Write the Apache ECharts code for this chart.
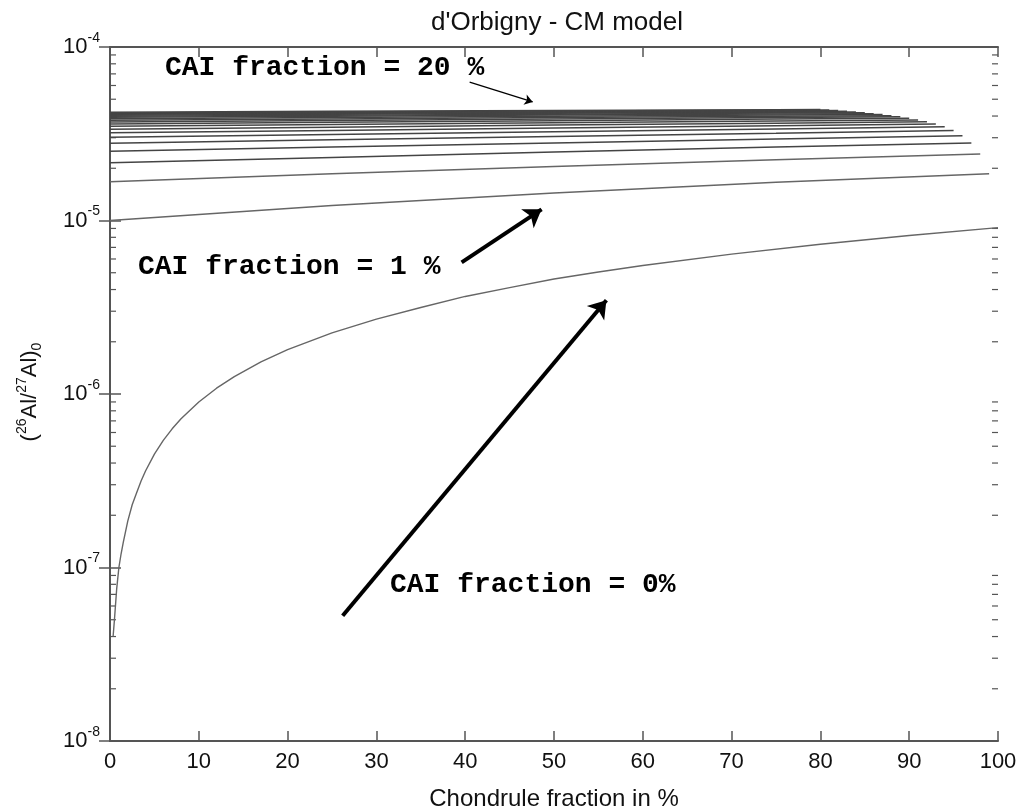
<!DOCTYPE html>
<html>
<head>
<meta charset="utf-8">
<script src="https://cdn.jsdelivr.net/npm/echarts@6/dist/echarts.min.js"></script>
<style>
  html, body { margin: 0; padding: 0; background: #fff; }
  #chart { width: 1023px; height: 810px; }
</style>
</head>
<body>
<div id="chart"></div>
<script>
// chondrule fraction (%) and (26Al/27Al)0 for the CAI = 0 % curve
var cai00X = [0.35, 0.5, 0.75, 1, 1.25, 1.5, 2, 2.5, 3, 3.5, 4, 5, 6, 7, 8, 10, 12, 14, 17, 20,
              25, 30, 35, 40, 45, 50, 55, 60, 70, 80, 90, 100];
var cai00Y = [4.0e-8, 5.0e-8, 7.5e-8, 1.0e-7, 1.2e-7, 1.4e-7, 1.85e-7, 2.3e-7, 2.7e-7, 3.15e-7,
              3.6e-7, 4.5e-7, 5.4e-7, 6.3e-7, 7.2e-7, 9.0e-7, 1.08e-6, 1.26e-6, 1.53e-6, 1.8e-6,
              2.25e-6, 2.7e-6, 3.15e-6, 3.65e-6, 4.1e-6, 4.6e-6, 5.05e-6, 5.5e-6, 6.4e-6, 7.3e-6,
              8.2e-6, 9.1e-6];

// CAI = 1..20 % : values at chondrule fraction 0, 25, 50, 75 and at the line end
var chondruleGrid = [0, 25, 50, 75];
var caiFractions = [1, 2, 3, 4, 5, 6, 7, 8, 9, 10, 11, 12, 13, 14, 15, 16, 17, 18, 19, 20];
var lineEnds = [99, 98, 97, 96, 95, 94, 93, 92, 91, 90, 89, 88, 87, 86, 85, 84, 83, 82, 81, 80];

var cai01 = [1.00e-5, 1.22e-5, 1.44e-5, 1.66e-5, 1.86e-5];
var cai02 = [1.67e-5, 1.86e-5, 2.05e-5, 2.24e-5, 2.42e-5];
var cai03 = [2.15e-5, 2.31e-5, 2.48e-5, 2.65e-5, 2.80e-5];
var cai04 = [2.51e-5, 2.65e-5, 2.80e-5, 2.95e-5, 3.08e-5];
var cai05 = [2.79e-5, 2.92e-5, 3.05e-5, 3.18e-5, 3.30e-5];
var cai06 = [3.02e-5, 3.13e-5, 3.25e-5, 3.37e-5, 3.47e-5];
var cai07 = [3.20e-5, 3.30e-5, 3.41e-5, 3.52e-5, 3.60e-5];
var cai08 = [3.36e-5, 3.45e-5, 3.55e-5, 3.64e-5, 3.71e-5];
var cai09 = [3.49e-5, 3.57e-5, 3.66e-5, 3.75e-5, 3.80e-5];
var cai10 = [3.60e-5, 3.68e-5, 3.76e-5, 3.84e-5, 3.88e-5];
var cai11 = [3.70e-5, 3.77e-5, 3.84e-5, 3.92e-5, 3.96e-5];
var cai12 = [3.78e-5, 3.85e-5, 3.92e-5, 3.99e-5, 4.02e-5];
var cai13 = [3.86e-5, 3.92e-5, 3.99e-5, 4.05e-5, 4.08e-5];
var cai14 = [3.93e-5, 3.99e-5, 4.05e-5, 4.11e-5, 4.13e-5];
var cai15 = [3.99e-5, 4.04e-5, 4.10e-5, 4.16e-5, 4.18e-5];
var cai16 = [4.04e-5, 4.09e-5, 4.15e-5, 4.20e-5, 4.22e-5];
var cai17 = [4.09e-5, 4.14e-5, 4.19e-5, 4.24e-5, 4.26e-5];
var cai18 = [4.13e-5, 4.18e-5, 4.23e-5, 4.28e-5, 4.30e-5];
var cai19 = [4.17e-5, 4.22e-5, 4.27e-5, 4.32e-5, 4.33e-5];
var cai20 = [4.21e-5, 4.26e-5, 4.30e-5, 4.35e-5, 4.36e-5];

var yDecades = [-8, -7, -6, -5, -4];

var caiCurves = [cai01, cai02, cai03, cai04, cai05, cai06, cai07, cai08, cai09, cai10,
                 cai11, cai12, cai13, cai14, cai15, cai16, cai17, cai18, cai19, cai20];

var AXIS = '#555';
var FONT = '"Liberation Sans", Arial, sans-serif';
var MONO = '"Liberation Mono", "Courier New", monospace';

var myChart = echarts.init(document.getElementById('chart'));

// minor log ticks 2..9 x 10^n
var minorTicks = [];
for (var d = 0; d < yDecades.length - 1; d++) {
    for (var k = 2; k <= 9; k++) {
        minorTicks.push([0, k * Math.pow(10, yDecades[d])]);
    }
}

var series = [];

series.push({
    name: 'CAI 0%',
    type: 'line',
    showSymbol: false,
    data: cai00X.map(function (x, i) { return [x, cai00Y[i]]; }),
    lineStyle: { color: '#666', width: 1.4 },
    markLine: {
        silent: true,
        symbol: ['none', 'arrow'],
        label: { show: false },
        emphasis: { disabled: true },
        data: [
            [{ coord: [40.5, 6.28e-5], lineStyle: { color: '#000', width: 1.3, type: 'solid' } },
             { coord: [47.6, 4.82e-5], symbolSize: 8 }],
            [{ coord: [39.6, 5.74e-6], lineStyle: { color: '#000', width: 4, type: 'solid' } },
             { coord: [48.6, 1.16e-5], symbolSize: 17 }],
            [{ coord: [26.2, 5.27e-8], lineStyle: { color: '#000', width: 4, type: 'solid' } },
             { coord: [55.9, 3.47e-6], symbolSize: 17 }]
        ]
    }
});

caiCurves.forEach(function (vals, idx) {
    var pts = chondruleGrid.map(function (x, i) { return [x, vals[i]]; });
    pts.push([lineEnds[idx], vals[4]]);
    series.push({
        name: 'CAI ' + caiFractions[idx] + '%',
        type: 'line',
        showSymbol: false,
        data: pts,
        lineStyle: { color: idx < 2 ? '#666' : '#444', width: 1.5 }
    });
});

series.push({
    type: 'custom',
    silent: true,
    clip: false,
    data: minorTicks,
    renderItem: function (params, api) {
        var v = api.value(1);
        var p0 = api.coord([0, v]);
        var p1 = api.coord([100, v]);
        var st = { stroke: AXIS, lineWidth: 1.2 };
        return {
            type: 'group',
            children: [
                { type: 'line', shape: { x1: p0[0], y1: p0[1], x2: p0[0] + 6, y2: p0[1] }, style: st },
                { type: 'line', shape: { x1: p1[0] - 6, y1: p1[1], x2: p1[0], y2: p1[1] }, style: st }
            ]
        };
    }
});

var axisLineCommon = { show: true, lineStyle: { color: AXIS, width: 2 } };

var option = {
    animation: false,
    backgroundColor: '#fff',
    title: {
        text: "d'Orbigny - CM model",
        left: 552,
        top: 5,
        textAlign: 'center',
        textStyle: { fontFamily: FONT, fontSize: 26, fontWeight: 'normal', color: '#111' }
    },
    grid: { left: 110, right: 25, top: 47, bottom: 69, outerBoundsMode: 'none' },
    xAxis: [{
        type: 'value',
        min: 0,
        max: 100,
        interval: 10,
        position: 'bottom',
        name: 'Chondrule fraction in %',
        nameLocation: 'middle',
        nameGap: 46,
        nameTextStyle: { fontFamily: FONT, fontSize: 24, color: '#111' },
        axisLine: axisLineCommon,
        axisTick: { show: true, inside: true, length: 10, lineStyle: { color: AXIS, width: 1.5 } },
        axisLabel: { fontFamily: FONT, fontSize: 22, color: '#111', margin: 10 },
        splitLine: { show: false }
    }, {
        type: 'value',
        min: 0,
        max: 100,
        interval: 10,
        position: 'top',
        axisLine: axisLineCommon,
        axisTick: { show: true, inside: true, length: 10, lineStyle: { color: AXIS, width: 1.5 } },
        axisLabel: { show: false },
        splitLine: { show: false }
    }],
    yAxis: [{
        type: 'log',
        logBase: 10,
        min: 1e-8,
        max: 1e-4,
        position: 'left',
        axisLine: axisLineCommon,
        axisTick: { show: true, inside: true, length: 11, lineStyle: { color: AXIS, width: 1.5 } },
        axisLabel: {
            margin: 10,
            formatter: function (v) {
                var e = Math.round(Math.log(v) / Math.LN10);
                return '{b|10}{e|' + e + '}';
            },
            rich: {
                b: { fontFamily: FONT, fontSize: 22, color: '#111' },
                e: { fontFamily: FONT, fontSize: 14, color: '#111', padding: [0, 0, 18, 0] }
            }
        },
        splitLine: { show: false }
    }, {
        type: 'log',
        logBase: 10,
        min: 1e-8,
        max: 1e-4,
        position: 'right',
        axisLine: axisLineCommon,
        axisTick: { show: true, inside: true, length: 11, lineStyle: { color: AXIS, width: 1.5 } },
        axisLabel: { show: false },
        splitLine: { show: false }
    }],
    graphic: [{
        type: 'text',
        x: 30,
        y: 392,
        rotation: Math.PI / 2,
        style: {
            text: '{t|(}{s|26}{t|Al/}{s|27}{t|Al)}{u|0}',
            align: 'center',
            verticalAlign: 'middle',
            rich: {
                t: { fontFamily: FONT, fontSize: 22, fill: '#111' },
                s: { fontFamily: FONT, fontSize: 14, fill: '#111', padding: [0, 0, 16, 0] },
                u: { fontFamily: FONT, fontSize: 14, fill: '#111', padding: [14, 0, 0, 0] }
            }
        }
    }, {
        type: 'text',
        x: 165,
        y: 68,
        style: {
            text: 'CAI fraction = 20 %',
            fontFamily: MONO, fontSize: 28, fontWeight: 'bold', fill: '#000',
            verticalAlign: 'middle'
        }
    }, {
        type: 'text',
        x: 138,
        y: 267,
        style: {
            text: 'CAI fraction = 1 %',
            fontFamily: MONO, fontSize: 28, fontWeight: 'bold', fill: '#000',
            verticalAlign: 'middle'
        }
    }, {
        type: 'text',
        x: 390,
        y: 585,
        style: {
            text: 'CAI fraction = 0%',
            fontFamily: MONO, fontSize: 28, fontWeight: 'bold', fill: '#000',
            verticalAlign: 'middle'
        }
    }],
    series: series
};

myChart.setOption(option);
window.onresize = myChart.resize;
</script>
</body>
</html>
